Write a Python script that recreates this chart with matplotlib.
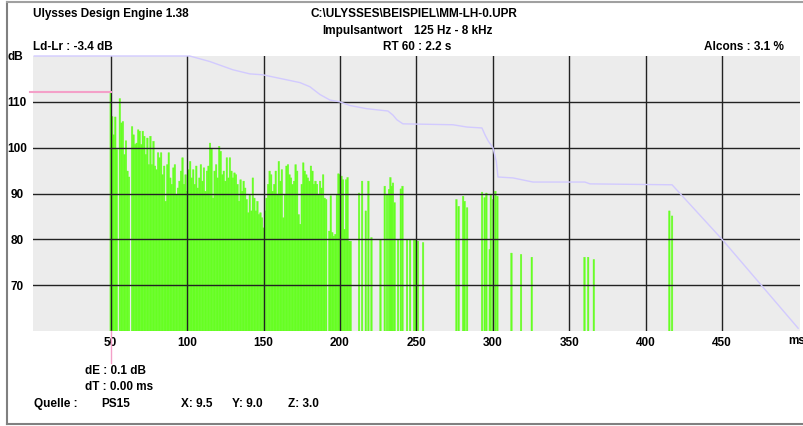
import matplotlib
matplotlib.use('Agg')
import matplotlib.pyplot as plt
from matplotlib.lines import Line2D

plt.rcParams['font.family'] = ['Liberation Sans', 'DejaVu Sans']
plt.rcParams['font.weight'] = 'bold'
plt.rcParams['font.size'] = 8.5

# Reflexionen: Zeit (ms) und Pegel (dB)
zeit_ms = [
    50, 51, 52, 53, 54, 56, 57, 58, 59, 60, 61, 62, 64, 65, 66, 67, 68, 69,
    70, 71, 72, 73, 74, 75, 76, 77, 78, 79, 80, 81, 82, 83, 84, 85, 86, 87, 88, 89,
    90, 91, 92, 93, 94, 95, 96, 97, 98, 99, 100, 101, 102, 103, 104, 105, 106, 107,
    108, 109, 110, 111, 112, 113, 114, 115, 116, 117, 118, 119, 120, 121, 122, 123,
    124, 125, 126, 127, 128, 129, 130, 131, 132, 133, 134, 135, 136, 137, 138, 139,
    140, 141, 142, 143, 144, 145, 146, 147, 148, 149, 150, 151, 152, 153, 154, 155,
    156, 157, 158, 159, 160, 161, 162, 163, 164, 165, 166, 167, 168, 169, 170, 171,
    172, 173, 174, 175, 176, 177, 178, 179, 180, 181, 182, 183, 184, 185, 186, 187,
    188, 189, 190, 191, 193, 194, 195, 196, 197, 198, 199, 200, 201, 202, 203, 204,
    205, 206, 207,
    212.5, 214.5, 216.9, 218.6, 220.6, 226.5, 229.3, 230.8, 232.1, 233.0, 233.9,
    234.7, 235.8, 238.0, 239.8, 240.9, 243.9, 245.9, 248.5, 249.6, 251.1, 254.4,
    276.2, 277.7, 280.6, 281.6, 283.2, 293.0, 294.7, 295.8, 298.0, 298.7, 300.2,
    301.7, 303.0,
    312.2, 318.5, 325.5, 360.0, 362.4, 366.1,
    415.5, 417.3,
]
pegel_db = [
    112.2, 106.8, 102.8, 106.7, 99.6, 110.7, 105.4, 105.7, 98.5, 101.5, 94.9, 93.6,
    104.6, 102.8, 100.7, 101.0, 103.9, 103.6,
    100.7, 103.6, 102.5, 98.5, 102.1, 96.3, 102.5, 96.3, 101.4, 96.0, 95.2, 98.9,
    97.8, 98.9, 94.1, 96.0, 88.3, 96.3, 98.9, 93.4,
    92.0, 95.6, 96.3, 89.8, 91.2, 92.7, 94.9, 97.8, 92.0, 94.1, 90.5, 95.2, 97.0,
    93.4, 95.2, 92.0, 96.0, 91.2,
    93.4, 96.3, 92.7, 95.6, 90.5, 94.9, 96.0, 101.0, 99.9, 89.0, 94.9, 96.3, 93.4,
    100.3, 99.2, 94.1,
    94.9, 92.7, 97.8, 93.4, 97.8, 94.9, 93.4, 94.5, 94.1, 92.0, 88.3, 93.0, 90.5,
    92.7, 91.2, 88.7,
    85.8, 89.8, 86.2, 93.4, 89.0, 86.2, 88.3, 85.4, 85.8, 84.7, 82.5, 86.2, 89.0,
    92.0, 94.9, 94.1,
    90.5, 92.0, 94.9, 89.8, 97.0, 92.7, 95.2, 84.7, 89.8, 96.0, 96.3, 94.1, 93.4,
    92.0, 92.7, 96.3,
    94.9, 85.4, 83.3, 92.0, 96.7, 94.9, 94.1, 93.4, 92.7, 96.0, 94.9, 92.0, 92.7,
    92.0, 89.8, 92.7,
    91.2, 94.1, 89.0, 88.7, 81.8, 89.5, 81.5, 80.7, 81.1, 89.8, 94.3, 94.1, 93.8,
    93.0, 82.2, 93.0,
    93.5, 79.6, 79.6,
    90.1, 92.7, 86.2, 92.7, 80.4, 80.0, 91.6, 89.8, 90.9, 93.5, 91.6,
    92.3, 88.0, 80.0, 91.0, 91.6, 80.0, 80.0, 79.9, 79.9, 79.6, 79.3,
    88.7, 87.2, 89.4, 88.3, 86.9, 90.3, 89.1, 90.1, 77.8, 89.8, 88.7,
    90.5, 89.4,
    77.0, 76.7, 76.1, 76.1, 76.1, 75.6,
    86.2, 85.1,
]

# Abklingkurve (Schroeder-Integration)
abkl_ms = [0, 101.7, 114.8, 129.9, 141.0, 149.5, 173.8, 180.3, 186.9, 193.4,
           199.9, 206.5, 217.6, 231.4, 234.7, 237.2, 241.2, 273.9, 283.1, 292.9,
           294.9, 297.1, 300.1, 302.3, 303.4, 313.2, 326.3, 360.3, 363.6, 417.3,
           450.0, 499.8]
abkl_db = [120.0, 120.0, 118.8, 117.0, 116.1, 115.9, 114.2, 113.3, 111.6, 110.4,
           110.0, 109.2, 108.5, 108.0, 107.1, 106.1, 105.2, 105.0, 104.5, 104.3,
           102.8, 101.4, 100.0, 97.0, 93.6, 93.4, 92.5, 92.5, 92.1, 91.9,
           80.0, 60.6]

# Direktschall
direkt_ms = 50.0
direkt_db = 112.2

x_ticks = [50, 100, 150, 200, 250, 300, 350, 400, 450]
y_ticks = [70, 80, 90, 100, 110]

kopf = [
    ("Ulysses Design Engine 1.38", 33, 14),
    ("C:\\ULYSSES\\BEISPIEL\\MM-LH-0.UPR", 311, 14),
    ("Impulsantwort", 322, 31),
    ("125 Hz - 8 kHz", 414, 31),
    ("Ld-Lr : -3.4 dB", 33, 47),
    ("RT 60 : 2.2 s", 383, 47),
    ("Alcons : 3.1 %", 704, 47),
    ("dB", 8, 57),
    ("ms", 788, 341),
    ("dE : 0.1 dB", 85, 371),
    ("dT : 0.00 ms", 85, 387),
    ("Quelle :", 34, 404),
    ("PS15", 101, 404),
    ("X: 9.5", 181, 404),
    ("Y: 9.0", 232, 404),
    ("Z: 3.0", 288, 404),
]

W, H = 804, 426
fig = plt.figure(figsize=(W / 100, H / 100), dpi=100, facecolor='white')
ax = fig.add_axes([33.5 / W, 1 - 331 / H, (800 - 33.5) / W, (331 - 56) / H])
ax.set_facecolor('#ececec')

balken = ax.bar(zeit_ms, [p - 60 for p in pegel_db], bottom=60, width=1.0,
                color='#66ff22', edgecolor='#66ff22', linewidth=0.3, zorder=2)
for b in balken:
    b.set_snap(False)

for xt in x_ticks:
    ax.axvline(xt, color='#222222', lw=1.0, zorder=3)
for yt in y_ticks:
    ax.axhline(yt, color='#222222', lw=1.0, zorder=3)

ax.plot(abkl_ms, abkl_db, color='#d2caff', lw=1.0, zorder=4, clip_on=False)

# Direktschall-Markierung
ax.plot([-3, direkt_ms], [direkt_db, direkt_db], color='#f4a0c8', lw=1.5,
        zorder=5, clip_on=False)
ax.plot([direkt_ms, direkt_ms], [60, 53.1], color='#f4a0c8', lw=1.0,
        zorder=5, clip_on=False)

ax.set_xlim(-0.5, 501)
ax.set_ylim(60, 120)
ax.set_xticks(x_ticks)
ax.set_yticks(y_ticks)
ax.tick_params(axis='x', length=0, pad=4)
ax.tick_params(axis='y', length=0, pad=11.9)
plt.setp(ax.get_yticklabels(), ha='center')
for s in ax.spines.values():
    s.set_visible(False)

for txt, x, y in kopf:
    fig.text(x / W, 1 - y / H, txt, ha='left', va='center')

# Rahmen
fig.add_artist(Line2D([7 / W, 7 / W], [1 - 2 / H, 1 - 424 / H], color='#808080', lw=1.5))
fig.add_artist(Line2D([7 / W, 1], [1 - 2 / H, 1 - 2 / H], color='#a0a0a0', lw=1.5))
fig.add_artist(Line2D([7 / W, 1], [1 - 424 / H, 1 - 424 / H], color='#808080', lw=1.5))

fig.savefig('out.png', dpi=100, facecolor='white')
